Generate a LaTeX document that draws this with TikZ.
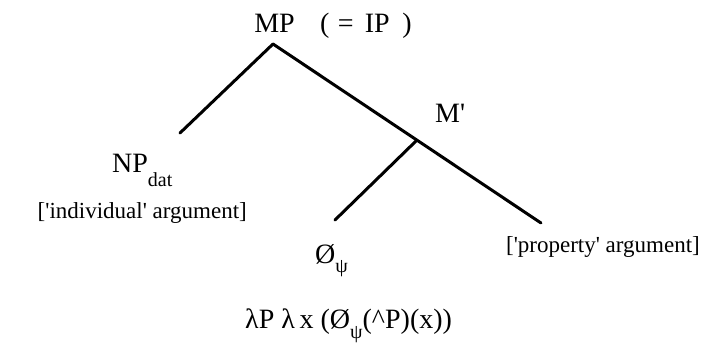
\documentclass[tikz,border=0pt]{standalone}
\usepackage{fontspec}
\setmainfont{Liberation Serif}
\usetikzlibrary{calc}
\tikzset{
  cat/.style={font=\fontsize{28}{32}\selectfont, inner sep=0pt},
  gloss/.style={font=\fontsize{23}{26}\selectfont, inner sep=0pt},
  branch/.style={line width=3pt, line cap=round}
}
\newcommand{\lowsub}[2]{\raisebox{#1}{\fontsize{20}{22}\selectfont #2}}
\newcommand{\sq}{\textquotesingle}
\begin{document}
\begin{tikzpicture}[x=1pt, y=-1pt]
  \useasboundingbox (0,0) rectangle (706,347);
  % Root
  \node[cat, anchor=base] (mp) at (274.5,33) {MP};
  \node[cat, anchor=base west] (ipnote) at (320,33)
    {(\hspace{0.3em}=\hspace{0.4em}IP\hspace{0.45em})};
  % Branch points
  \coordinate (top) at (273,44);
  \coordinate (leftend) at (180,133);
  \coordinate (rightend) at (541,223);
  \coordinate (mjoin) at ($(top)!0.537!(rightend)$);
  \coordinate (subend) at (335,220);
  % Labels
  \node[cat, anchor=base west] (mbar) at (435,123) {M\sq};
  \node[cat, anchor=base west] (np) at (112,173) {NP\lowsub{-14pt}{dat}};
  \node[gloss, anchor=base east] (indiv) at (247,219) {[\sq individual\sq{} argument]};
  \node[cat, anchor=base west] (empty) at (315,263) {Ø\lowsub{-9pt}{ψ}};
  \node[gloss, anchor=base east] (prop) at (700,252) {[\sq property\sq{} argument]};
  \node[cat, anchor=base west] (sem) at (245,328)
    {λP λ\,x (Ø\lowsub{-10pt}{ψ}(\textasciicircum P)(x))};
  % Branches
  \draw[branch] (top) -- (leftend);
  \draw[branch] (top) -- (rightend);
  \draw[branch] (mjoin) -- (subend);
\end{tikzpicture}
\end{document}
